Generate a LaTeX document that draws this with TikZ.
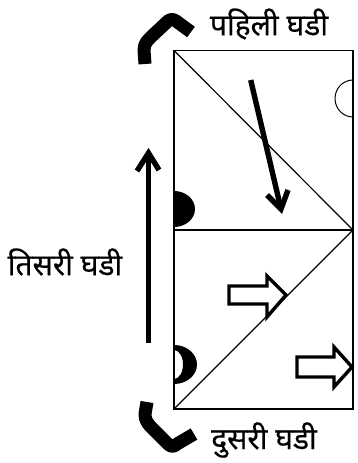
\documentclass[tikz,border=0pt]{standalone}
\usepackage{fontspec}
\newfontfamily\devfont[Script=Devanagari,FakeBold=0.4]{Noto Sans}
\usetikzlibrary{calc}

\begin{document}
\begin{tikzpicture}[
    x=1pt, y=-1pt,
    wall/.style={line width=1.2pt, black},
    heavy/.style={line width=5.4pt, black, line join=miter},
    turn/.style={line width=13pt, black, line join=round},
    hollow/.style={line width=3.4pt, black, fill=white, line join=miter},
    label/.style={font=\devfont\fontsize{30}{34}\selectfont, inner sep=0pt},
]
\useasboundingbox (0,0) rectangle (357,463);

% === Corners of the box ===
\coordinate (TL) at (174,50.5);
\coordinate (TR) at (353,50.5);
\coordinate (ML) at (174,230);
\coordinate (MR) at (353,230);
\coordinate (BL) at (174,409);
\coordinate (BR) at (353,409);

% === Box and diagonals ===
\draw[wall] (TL) -- (TR) -- (BR) -- (BL) -- cycle;
\draw[wall] (ML) -- (MR);
\draw[wall] (TL) -- (MR);
\draw[wall] (BL) -- (MR);

% === Half moons ===
\draw[line width=1pt] (353,80) arc[start angle=270, end angle=90, x radius=18, y radius=18.5];
\fill (174,191) arc[start angle=-90, end angle=90, x radius=21, y radius=18] -- cycle;
\fill[even odd rule] (174,345) arc[start angle=-90, end angle=90, x radius=23, y radius=19.5] -- cycle
    (174,350) arc[start angle=-90, end angle=90, x radius=9, y radius=14.5] -- cycle;

% === Long arrows ===
\coordinate (downtail) at (250.7,80);
\coordinate (downtip) at (281,209);
\draw[heavy] (downtail) -- (downtip);
\draw[heavy] (267,195) -- (downtip) -- (288,190);

\coordinate (uptail) at (148.5,343);
\coordinate (uptip) at (148.5,153);
\draw[heavy] (uptail) -- (uptip);
\draw[heavy] (137,171) -- (uptip) -- (159,170);

% === Hollow arrows ===
\draw[hollow] (229,286) -- (267,286) -- (267,276) -- (286,295) -- (267,317) -- (267,304) -- (229,304) -- cycle;
\draw[hollow] (297,357) -- (334,357) -- (334,347) -- (352,367) -- (334,387) -- (334,377) -- (297,377) -- cycle;

% === Turning arrows ===
\draw[turn] (145,64) -- (144,50) .. controls (144,43) and (148,40) .. (152,36)
    -- (168,21) .. controls (171,19) and (173,19) .. (176,21) -- (191,32);
\draw[turn] (147,402) -- (145,414) .. controls (145,420) and (147,422) .. (150,426)
    -- (168,444) .. controls (171,447) and (174,447) .. (177,444) -- (194,434);

% === Labels ===
\node[label] (first) at (269,24) {पहिली घडी};
\node[label] (second) at (264,440) {दुसरी घडी};
\node[label] (third) at (65,262) {तिसरी घडी};

\end{tikzpicture}
\end{document}
